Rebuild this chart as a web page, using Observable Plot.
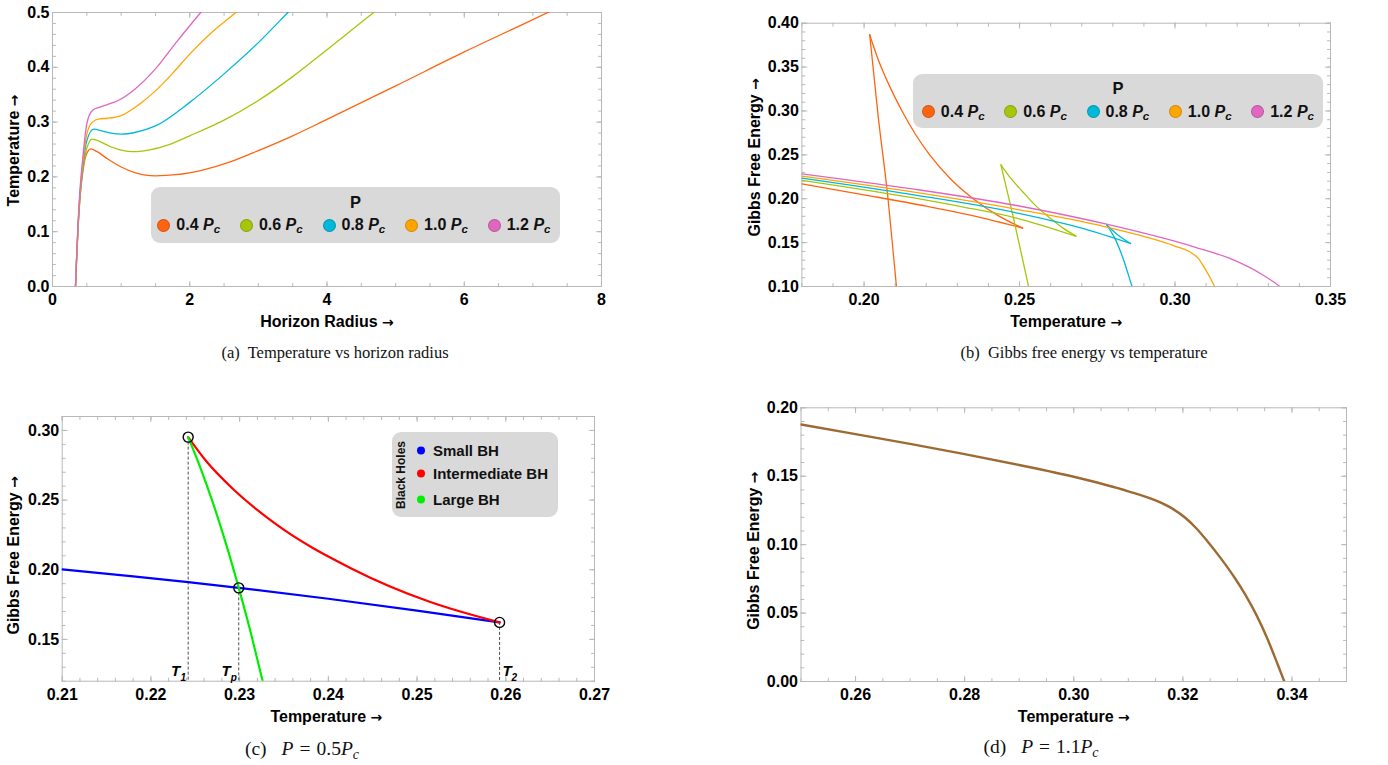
<!DOCTYPE html>
<html><head><meta charset="utf-8">
<script src="https://cdn.jsdelivr.net/npm/d3@7"></script>
<script src="https://cdn.jsdelivr.net/npm/@observablehq/plot@0.6"></script>
<style>
body{margin:0;background:#fff;}
#page{position:relative;width:1388px;height:765px;overflow:hidden;font-family:"Liberation Sans",Arial,sans-serif;background:#fff;}
.panel{position:absolute;width:620px;height:340px;}
.legend{position:absolute;background:#d9d9d9;border-radius:9px;font-weight:bold;color:#111;}
.legend .item{position:absolute;display:flex;align-items:center;white-space:nowrap;transform:translateY(-50%);}
.legend .dot{border-radius:50%;border:1px solid rgba(0,0,0,0.18);box-sizing:border-box;flex:none;}
.legend sub{font-size:0.72em;vertical-align:-0.3em;line-height:0;}
.caption{position:absolute;font-family:"Liberation Serif","Times New Roman",serif;font-size:16.5px;transform:translate(-50%,-50%);white-space:nowrap;color:#111;}
.caption.math{font-size:19.5px;}
.caption sub{font-size:0.72em;vertical-align:-0.25em;line-height:0;}
.caption .sp{display:inline-block;}
</style></head><body><div id="page"></div>
<script>
// ---------- shared legend data ----------
const pressureLabels = ["0.4", "0.6", "0.8", "1.0", "1.2"];
const pressureColors = ["#ff6410", "#a5c60a", "#00b8d8", "#ffa500", "#e066c0"];

// ---------- (a) Temperature vs horizon radius ----------
const aXTicks = [0, 2, 4, 6, 8];
const aYTicks = [0, 0.1, 0.2, 0.3, 0.4, 0.5];
const radius04 = [0.335,0.35,0.37,0.40,0.44,0.49,0.56,0.65,0.8,1.0,1.2,1.5,1.8,2.2,2.6,3.0,3.5,4.0,5.0,6.0,7.0,7.3];
const temp04   = [0,0.045,0.10,0.16,0.207,0.24,0.251,0.246,0.233,0.218,0.208,0.202,0.204,0.213,0.228,0.248,0.275,0.305,0.366,0.428,0.487,0.505];
const radius06 = [0.335,0.35,0.37,0.40,0.44,0.50,0.58,0.7,0.85,1.0,1.17,1.4,1.7,2.0,2.5,3.0,3.5,4.0,4.5,4.8];
const temp06   = [0,0.046,0.102,0.163,0.212,0.252,0.269,0.264,0.255,0.249,0.246,0.249,0.259,0.275,0.3035,0.3395,0.383,0.432,0.482,0.512];
const radius08 = [0.335,0.35,0.37,0.40,0.44,0.50,0.60,0.72,0.85,1.01,1.2,1.5,2.0,2.5,3.0,3.43,3.5];
const temp08   = [0,0.047,0.104,0.166,0.218,0.266,0.287,0.284,0.280,0.278,0.281,0.293,0.336,0.388,0.445,0.5,0.509];
const radius10 = [0.335,0.35,0.37,0.40,0.44,0.50,0.58,0.68,0.8,1.0,1.25,1.5,1.75,2.0,2.35,2.67,2.75];
const temp10   = [0,0.048,0.106,0.17,0.224,0.278,0.300,0.306,0.307,0.312,0.331,0.357,0.389,0.424,0.467,0.5,0.509];
const radius12 = [0.335,0.35,0.37,0.40,0.44,0.50,0.58,0.68,0.8,0.95,1.2,1.5,1.8,2.16,2.2];
const temp12   = [0,0.05,0.108,0.175,0.233,0.297,0.321,0.327,0.332,0.339,0.36,0.397,0.445,0.5,0.506];

// ---------- (b) Gibbs free energy vs temperature, [T, G] pairs per branch ----------
const bXTicks = [0.20, 0.25, 0.30, 0.35];
const bYTicks = [0.10, 0.15, 0.20, 0.25, 0.30, 0.35, 0.40];
const gibbs04Small = [[0.18,0.217],[0.20,0.2045],[0.22,0.1915],[0.24,0.1765],[0.251,0.1665]];
const gibbs04Mid   = [[0.2018,0.387],[0.2045,0.359],[0.2085,0.326],[0.2122,0.30],[0.2165,0.2735],[0.2211,0.25],[0.228,0.222],[0.2351,0.20],[0.243,0.181],[0.251,0.1665]];
const gibbs04Large = [[0.2018,0.387],[0.2045,0.295],[0.2077,0.20],[0.2104,0.10],[0.2108,0.085]];
const gibbs06Small = [[0.18,0.221],[0.215,0.2015],[0.232,0.1905],[0.249,0.178],[0.268,0.1574]];
const gibbs06Mid   = [[0.244,0.2386],[0.247,0.224],[0.251,0.208],[0.2555,0.191],[0.260,0.1775],[0.264,0.1665],[0.2682,0.1574]];
const gibbs06Large = [[0.244,0.2386],[0.2478,0.182],[0.2529,0.10],[0.2535,0.09]];
const gibbs08Small = [[0.18,0.2235],[0.215,0.205],[0.249,0.184],[0.27,0.1665],[0.2857,0.149]];
const gibbs08Mid   = [[0.278,0.1703],[0.2815,0.159],[0.2857,0.149]];
const gibbs08Large = [[0.278,0.1703],[0.2805,0.156],[0.2835,0.13],[0.2862,0.10],[0.2868,0.094]];
const gibbs10      = [[0.18,0.2257],[0.215,0.208],[0.249,0.188],[0.278,0.1676],[0.300,0.146],[0.305,0.139],[0.3075,0.132],[0.3095,0.121],[0.3113,0.11],[0.3127,0.10],[0.3133,0.095]];
const gibbs12      = [[0.18,0.2284],[0.215,0.2115],[0.249,0.1923],[0.278,0.171],[0.3063,0.145],[0.319,0.130],[0.328,0.1137],[0.3337,0.10],[0.335,0.096]];

// ---------- (c) P = 0.5 Pc ----------
const cXTicks = [0.21, 0.22, 0.23, 0.24, 0.25, 0.26, 0.27];
const cYTicks = [0.15, 0.20, 0.25, 0.30];
const bhLabels = ["Small BH", "Intermediate BH", "Large BH"];
const bhColors = ["#0000ff", "#ff0000", "#00ee00"];
const smallBhT = [0.21,0.218,0.2242,0.2299,0.24,0.25,0.2593];
const smallBhG = [0.2003,0.1953,0.1911,0.187,0.1792,0.1707,0.1622];
const midBhT   = [0.2242,0.2262,0.2295,0.2339,0.2427,0.2515,0.2593];
const midBhG   = [0.2952,0.2782,0.2565,0.2336,0.2006,0.1768,0.1622];
const largeBhT = [0.2242,0.2256,0.2270,0.2285,0.2299,0.2313,0.2326];
const largeBhG = [0.2952,0.2728,0.2478,0.2179,0.187,0.1537,0.12];
const markerNames = ["1", "p", "2"];
const markerT = [0.2242, 0.2299, 0.2593];
const markerG = [0.2952, 0.187, 0.1622];

// ---------- (d) P = 1.1 Pc ----------
const dXTicks = [0.26, 0.28, 0.30, 0.32, 0.34];
const dYTicks = [0.00, 0.05, 0.10, 0.15, 0.20];
const tempD  = [0.25,0.26,0.27,0.28,0.29,0.30,0.31,0.315,0.318,0.3205,0.3225,0.3245,0.327,0.3295,0.3315,0.3335,0.3355,0.3375,0.3386,0.3395];
const gibbsD = [0.1878,0.1808,0.1736,0.1661,0.1582,0.1496,0.139,0.1323,0.1265,0.1195,0.1118,0.1025,0.0898,0.0758,0.0631,0.0485,0.0313,0.0113,0.0,-0.0095];

// ---------- helpers ----------
const FRAME = "#b8b8b8";
const page = document.getElementById("page");
const tickShape = {draw(ctx, l) { ctx.moveTo(0, 0); ctx.lineTo(0, -l); }};
const fmt = (s) => d3.format(s);
function minor(lo, hi, step) {
  const n = Math.round((hi - lo) / step);
  return d3.range(n + 1).map(i => +(lo + i * step).toFixed(6));
}
function frameTicks(xMaj, xMin, yMaj, yMin) {
  const o = {stroke: FRAME, strokeWidth: 1, shape: tickShape, anchor: "start"};
  const out = [];
  for (const [vals, len] of [[xMin, 3], [xMaj, 5]]) {
    out.push(Plot.vector(vals, {...o, x: d => d, frameAnchor: "bottom", rotate: 0, length: len}));
    out.push(Plot.vector(vals, {...o, x: d => d, frameAnchor: "top", rotate: 180, length: len}));
  }
  for (const [vals, len] of [[yMin, 3], [yMaj, 5]]) {
    out.push(Plot.vector(vals, {...o, y: d => d, frameAnchor: "left", rotate: 90, length: len}));
    out.push(Plot.vector(vals, {...o, y: d => d, frameAnchor: "right", rotate: -90, length: len}));
  }
  return out;
}
function axes(xTicks, xFmt, yTicks, yFmt, xLabel, yLabel, lab) {
  return [
    Plot.axisX({ticks: xTicks, tickSize: 0, tickPadding: 7, tickFormat: xFmt, label: null}),
    Plot.axisY({ticks: yTicks, tickSize: 0, tickPadding: 3, tickFormat: yFmt, label: null}),
    Plot.text([xLabel], {frameAnchor: "bottom", lineAnchor: "middle", textAnchor: "middle", dy: lab.xdy, dx: lab.xdx || 0, text: d => d, fontSize: 16, fontWeight: "bold"}),
    Plot.text([yLabel], {frameAnchor: "left", lineAnchor: "middle", textAnchor: "middle", dx: lab.ydx, dy: lab.ydy, rotate: -90, text: d => d, fontSize: 16, fontWeight: "bold"})
  ];
}
// render the trailing arrow of axis titles in a font with a full-size bold arrow
function fixArrows(svg) {
  svg.querySelectorAll("text").forEach(t => {
    const s = t.textContent;
    if (s.includes("→")) {
      const base = s.replace(/\s*→\s*$/, "");
      while (t.firstChild) t.removeChild(t.firstChild);
      t.appendChild(document.createTextNode(base + " "));
      const ts = document.createElementNS("http://www.w3.org/2000/svg", "tspan");
      ts.setAttribute("font-family", "DejaVu Sans");
      ts.setAttribute("font-weight", "bold");
      ts.setAttribute("font-size", "14");
      ts.textContent = "→";
      t.appendChild(ts);
    }
  });
}
const svgStyle = {fontFamily: "'Liberation Sans', Arial, sans-serif", fontSize: "16px", fontWeight: "bold", color: "#000", background: "transparent", overflow: "visible"};
function place(node, left, top) {
  fixArrows(node);
  const wrap = document.createElement("div");
  wrap.className = "panel";
  wrap.style.left = left + "px";
  wrap.style.top = top + "px";
  wrap.appendChild(node);
  page.appendChild(wrap);
}
function html(tag, cls, css, inner) {
  const e = document.createElement(tag);
  if (cls) e.className = cls;
  Object.assign(e.style, css);
  if (inner != null) e.innerHTML = inner;
  return e;
}
const pcText = (p) => `${p} <i>P</i><sub><i>c</i></sub>`;
function pressureLegend(left, top, w, h, titleY, rowY, firstX, step) {
  const box = html("div", "legend", {left: left + "px", top: top + "px", width: w + "px", height: h + "px"});
  box.appendChild(html("div", null, {position: "absolute", left: "0", width: "100%", textAlign: "center", top: (titleY - 9) + "px", fontSize: "16.5px", lineHeight: "18px"}, "P"));
  pressureLabels.forEach((p, i) => {
    const it = html("div", "item", {left: (firstX + i * step) + "px", top: rowY + "px", fontSize: "16px"});
    it.appendChild(html("span", "dot", {width: "13px", height: "13px", background: pressureColors[i], marginRight: "6px"}));
    it.appendChild(html("span", null, {}, pcText(p)));
    box.appendChild(it);
  });
  page.appendChild(box);
}

// ---------- panel (a) ----------
{
  const radiusSeries = [radius04, radius06, radius08, radius10, radius12];
  const tempSeries = [temp04, temp06, temp08, temp10, temp12];
  const rows = pressureLabels.flatMap((p, i) => radiusSeries[i].map((r, j) => ({p, r, t: tempSeries[i][j]})));
  const chart = Plot.plot({
    width: 620, height: 340,
    marginLeft: 52, marginRight: 19, marginTop: 12, marginBottom: 54,
    style: svgStyle,
    x: {domain: [0, 8]},
    y: {domain: [0, 0.5]},
    color: {domain: pressureLabels, range: pressureColors},
    marks: [
      Plot.frame({stroke: FRAME}),
      ...frameTicks(aXTicks, minor(0, 8, 0.5), aYTicks, minor(0, 0.5, 0.02)),
      Plot.line(rows, {x: "r", y: "t", z: "p", stroke: "p", curve: "monotone-x", strokeWidth: 1.3, clip: true}),
      ...axes(aXTicks, fmt("d"), aYTicks, fmt(".1f"), "Horizon Radius →", "Temperature →", {xdy: 35.7, ydx: -38.3, ydy: 1})
    ]
  });
  place(chart, 0, 0);
  pressureLegend(151, 187, 409, 56, 15, 38, 6.3, 82.6);
}

// ---------- panel (b) ----------
{
  const branches = [
    ["0.4", "s", gibbs04Small], ["0.4", "m", gibbs04Mid], ["0.4", "l", gibbs04Large],
    ["0.6", "s", gibbs06Small], ["0.6", "m", gibbs06Mid], ["0.6", "l", gibbs06Large],
    ["0.8", "s", gibbs08Small], ["0.8", "m", gibbs08Mid], ["0.8", "l", gibbs08Large],
    ["1.0", "s", gibbs10], ["1.2", "s", gibbs12]
  ];
  const rows = branches.flatMap(([p, b, pts]) => pts.map(([t, g]) => ({p, key: p + b, t, g})));
  const chart = Plot.plot({
    width: 620, height: 340,
    marginLeft: 61.4, marginRight: 30, marginTop: 22.7, marginBottom: 54,
    style: svgStyle,
    x: {domain: [0.18, 0.35]},
    y: {domain: [0.10, 0.40]},
    color: {domain: pressureLabels, range: pressureColors},
    marks: [
      Plot.frame({stroke: FRAME}),
      ...frameTicks(bXTicks, minor(0.18, 0.35, 0.01), bYTicks, minor(0.10, 0.40, 0.01)),
      Plot.line(rows, {x: "t", y: "g", z: "key", stroke: "p", curve: "monotone-x", strokeWidth: 1.3, clip: true}),
      ...axes(bXTicks, fmt(".2f"), bYTicks, fmt(".2f"), "Temperature →", "Gibbs Free Energy →", {xdy: 35.7, ydx: -47.4, ydy: 2.5})
    ]
  });
  place(chart, 740, 0);
  pressureLegend(913, 74, 410, 54, 14, 37.7, 8.8, 82.35);
}

// ---------- panel (c) ----------
{
  const seriesT = [smallBhT, midBhT, largeBhT];
  const seriesG = [smallBhG, midBhG, largeBhG];
  const rows = bhLabels.flatMap((k, i) => seriesT[i].map((t, j) => ({k, t, g: seriesG[i][j]})));
  const markers = markerNames.map((n, i) => ({n, t: markerT[i], g: markerG[i]}));
  const yDom = [0.12, 0.31];
  const leftLab = markers.filter(d => d.n !== "2");
  const rightLab = markers.filter(d => d.n === "2");
  const tOpts = {fontSize: 15, fontWeight: "bold", fontStyle: "italic", frameAnchor: "bottom"};
  const sOpts = {fontSize: 10, fontWeight: "bold", fontStyle: "italic", frameAnchor: "bottom"};
  const chart = Plot.plot({
    width: 620, height: 340,
    marginLeft: 61.7, marginRight: 26, marginTop: 26, marginBottom: 49.3,
    style: svgStyle,
    x: {domain: [0.21, 0.27]},
    y: {domain: yDom},
    color: {domain: bhLabels, range: bhColors},
    marks: [
      Plot.frame({stroke: FRAME}),
      ...frameTicks(cXTicks, minor(0.21, 0.27, 0.002), cYTicks, minor(0.12, 0.31, 0.01)),
      Plot.ruleX(markers, {x: "t", y1: "g", y2: () => yDom[0], stroke: "#222", strokeWidth: 0.8, strokeDasharray: "3,2"}),
      Plot.line(rows, {x: "t", y: "g", z: "k", stroke: "k", curve: "monotone-x", strokeWidth: 2.2, clip: true}),
      Plot.dot(markers, {x: "t", y: "g", r: 5, stroke: "#000", strokeWidth: 1.4, fill: "none"}),
      Plot.text(leftLab, {...tOpts, x: "t", text: () => "T", textAnchor: "end", dx: -8, dy: -5}),
      Plot.text(leftLab, {...sOpts, x: "t", text: "n", textAnchor: "end", dx: -2, dy: -0.5}),
      Plot.text(rightLab, {...tOpts, x: "t", text: () => "T", textAnchor: "start", dx: 3, dy: -5}),
      Plot.text(rightLab, {...sOpts, x: "t", text: "n", textAnchor: "start", dx: 12, dy: -0.5}),
      ...axes(cXTicks, fmt(".2f"), cYTicks, fmt(".2f"), "Temperature →", "Gibbs Free Energy →", {xdy: 35.3, xdx: -2, ydx: -48, ydy: 6.5})
    ]
  });
  place(chart, 0, 390);
  const box = html("div", "legend", {left: "392px", top: "432px", width: "166px", height: "85px"});
  box.appendChild(html("div", null, {position: "absolute", left: "9px", top: "42.5px", transform: "translate(-50%,-50%) rotate(-90deg)", fontSize: "12px", whiteSpace: "nowrap"}, "Black Holes"));
  const rowsY = [18, 41.3, 67];
  bhLabels.forEach((lab, i) => {
    const it = html("div", "item", {left: "25px", top: rowsY[i] + "px", fontSize: "15px"});
    it.appendChild(html("span", "dot", {width: "8px", height: "8px", background: bhColors[i], marginRight: "8px", border: "none"}));
    it.appendChild(html("span", null, {}, lab));
    box.appendChild(it);
  });
  page.appendChild(box);
}

// ---------- panel (d) ----------
{
  const rows = tempD.map((t, i) => ({t, g: gibbsD[i]}));
  const chart = Plot.plot({
    width: 620, height: 340,
    marginLeft: 60.5, marginRight: 14, marginTop: 17.3, marginBottom: 49,
    style: svgStyle,
    x: {domain: [0.25, 0.35]},
    y: {domain: [0, 0.20]},
    marks: [
      Plot.frame({stroke: FRAME}),
      ...frameTicks(dXTicks, minor(0.25, 0.35, 0.005), dYTicks, minor(0, 0.20, 0.01)),
      Plot.line(rows, {x: "t", y: "g", stroke: "#9e6a33", curve: "monotone-x", strokeWidth: 2.4, clip: true}),
      ...axes(dXTicks, fmt(".2f"), dYTicks, fmt(".2f"), "Temperature →", "Gibbs Free Energy →", {xdy: 35.7, ydx: -46.7, ydy: 6})
    ]
  });
  place(chart, 740, 390);
}

// ---------- captions ----------
const mathCap = (l, v) => `(${l})<span class="sp" style="width:15px"></span><i>P</i><span class="sp" style="width:6px"></span>=<span class="sp" style="width:6px"></span>${v}<i>P<sub>c</sub></i>`;
const captions = [
  [335, 353, "", "(a)&nbsp; Temperature vs horizon radius"],
  [1084, 353, "", "(b)&nbsp; Gibbs free energy vs temperature"],
  [302, 749, "math", mathCap("c", "0.5")],
  [1041, 747, "math", mathCap("d", "1.1")]
];
captions.forEach(([x, y, cls, t]) => page.appendChild(html("div", "caption " + cls, {left: x + "px", top: y + "px"}, t)));
</script>
</body></html>
